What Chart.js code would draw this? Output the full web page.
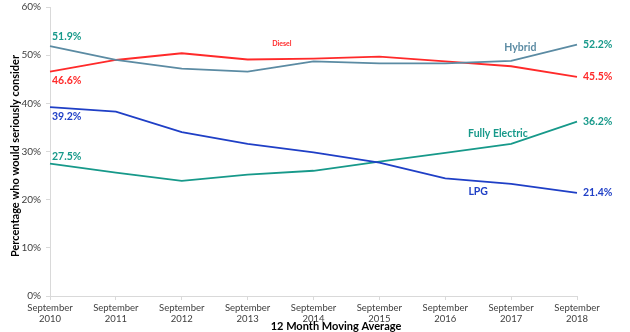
<!DOCTYPE html>
<html>
<head>
<meta charset="utf-8">
<script src="https://cdn.jsdelivr.net/npm/chart.js@4/dist/chart.umd.min.js"></script>
<style>
  html, body { margin: 0; padding: 0; background: #ffffff; }
  #wrap { width: 630px; height: 332px; position: relative; }
</style>
</head>
<body>
<div id="wrap"><canvas id="c" width="630" height="332"></canvas></div>
<script>
// Survey: share of respondents who would seriously consider each fuel type
const years = ['2010', '2011', '2012', '2013', '2014', '2015', '2016', '2017', '2018'];
const categories = years.map(y => ['September', y]);

const hybrid        = [51.9, 49.0, 47.2, 46.6, 48.7, 48.3, 48.3, 48.8, 52.2];
const diesel        = [46.6, 49.0, 50.4, 49.1, 49.3, 49.7, 48.7, 47.7, 45.5];
const lpg           = [39.2, 38.3, 34.0, 31.6, 29.8, 27.7, 24.4, 23.3, 21.4];
const fullyElectric = [27.5, 25.6, 23.9, 25.2, 26.0, 27.9, 29.7, 31.6, 36.2];

const yTicks = [0, 10, 20, 30, 40, 50, 60];

const FONT = 'Lato, "Liberation Sans", sans-serif';
const C_HYBRID = '#5b8ba3';
const C_DIESEL = '#ff2a2a';
const C_LPG = '#1f3fc6';
const C_ELEC = '#17998a';
const C_TEAL_LABEL = '#17998a';

// value labels at both ends of each line, plus series names placed on the plot
const endLabels = [
  // dataset index, label colour, [dx, dy, align] for first point, [dx, dy, align] for last point
  { ds: 0, color: C_TEAL_LABEL, first: [2, -9, 'left'],  last: [6, 0, 'left'] },
  { ds: 1, color: C_DIESEL,     first: [2, 9, 'left'],   last: [6, 0, 'left'] },
  { ds: 2, color: C_LPG,        first: [2, 9, 'left'],   last: [6, 0, 'left'] },
  { ds: 3, color: C_ELEC,       first: [2, -7, 'left'],  last: [6, 0, 'left'] }
];
const seriesNames = [
  { text: 'Diesel',         at: [3.52, 52.3], color: C_DIESEL, size: 7 },
  { text: 'Hybrid',         at: [7.14, 51.5], color: C_HYBRID, size: 10.5 },
  { text: 'Fully Electric', at: [6.80, 33.8], color: C_ELEC,   size: 10.5 },
  { text: 'LPG',            at: [6.50, 21.6], color: C_LPG,    size: 10.5 }
];

const labelPlugin = {
  id: 'lineLabels',
  afterDatasetsDraw(chart) {
    const ctx = chart.ctx;
    const xs = chart.scales.x, ys = chart.scales.y;
    ctx.save();
    ctx.textBaseline = 'middle';
    ctx.font = 'bold 10.5px ' + FONT;
    endLabels.forEach(l => {
      const meta = chart.getDatasetMeta(l.ds);
      const vals = chart.data.datasets[l.ds].data;
      const pts = [[0, l.first], [vals.length - 1, l.last]];
      pts.forEach(([i, off]) => {
        const p = meta.data[i];
        ctx.fillStyle = l.color;
        ctx.textAlign = off[2];
        ctx.fillText(vals[i].toFixed(1) + '%', p.x + off[0], p.y + off[1]);
      });
    });
    ctx.textAlign = 'center';
    seriesNames.forEach(n => {
      ctx.font = 'bold ' + n.size + 'px ' + FONT;
      ctx.fillStyle = n.color;
      ctx.fillText(n.text, xs.getPixelForValue(n.at[0]), ys.getPixelForValue(n.at[1]));
    });

    // axis titles
    ctx.fillStyle = '#000000';
    ctx.font = 'bold 11px ' + FONT;
    ctx.fillText('12 Month Moving Average', 336, 326);
    ctx.translate(15, 156);
    ctx.rotate(-Math.PI / 2);
    ctx.fillText('Percentage who would seriously consider', 0, 0);
    ctx.restore();
  }
};

const mkDs = (label, data, color) => ({
  label, data, borderColor: color, backgroundColor: color,
  borderWidth: 1.8, pointRadius: 0, tension: 0, fill: false
});

new Chart(document.getElementById('c'), {
  type: 'line',
  data: {
    labels: categories,
    datasets: [
      mkDs('Hybrid', hybrid, C_HYBRID),
      mkDs('Diesel', diesel, C_DIESEL),
      mkDs('LPG', lpg, C_LPG),
      mkDs('Fully Electric', fullyElectric, C_ELEC)
    ]
  },
  options: {
    responsive: false,
    animation: false,
    devicePixelRatio: 1,
    layout: { autoPadding: false, padding: { top: 7, right: 53, left: 0, bottom: 0 } },
    plugins: { legend: { display: false }, tooltip: { enabled: false } },
    scales: {
      x: {
        offset: false,
        grid: { display: true, drawOnChartArea: false, drawTicks: true, tickLength: 4, color: '#d9d9d9' },
        border: { color: '#d9d9d9' },
        ticks: { color: '#404040', font: { family: FONT, size: 9.5 }, padding: 2, maxRotation: 0, autoSkip: false },
        afterFit(s) { s.height = 36; s.paddingLeft = 0; s.paddingRight = 0; }
      },
      y: {
        min: 0, max: 60,
        afterBuildTicks(s) { s.ticks = yTicks.map(v => ({ value: v })); },
        grid: { display: true, drawOnChartArea: false, drawTicks: true, tickLength: 4, color: '#d9d9d9' },
        border: { color: '#d9d9d9' },
        ticks: { color: '#404040', font: { family: FONT, size: 10 }, padding: 5, callback: v => v + '%' },
        afterFit(s) { s.width = 50; s.paddingTop = 0; s.paddingBottom = 0; }
      }
    }
  },
  plugins: [labelPlugin]
});
</script>
</body>
</html>
